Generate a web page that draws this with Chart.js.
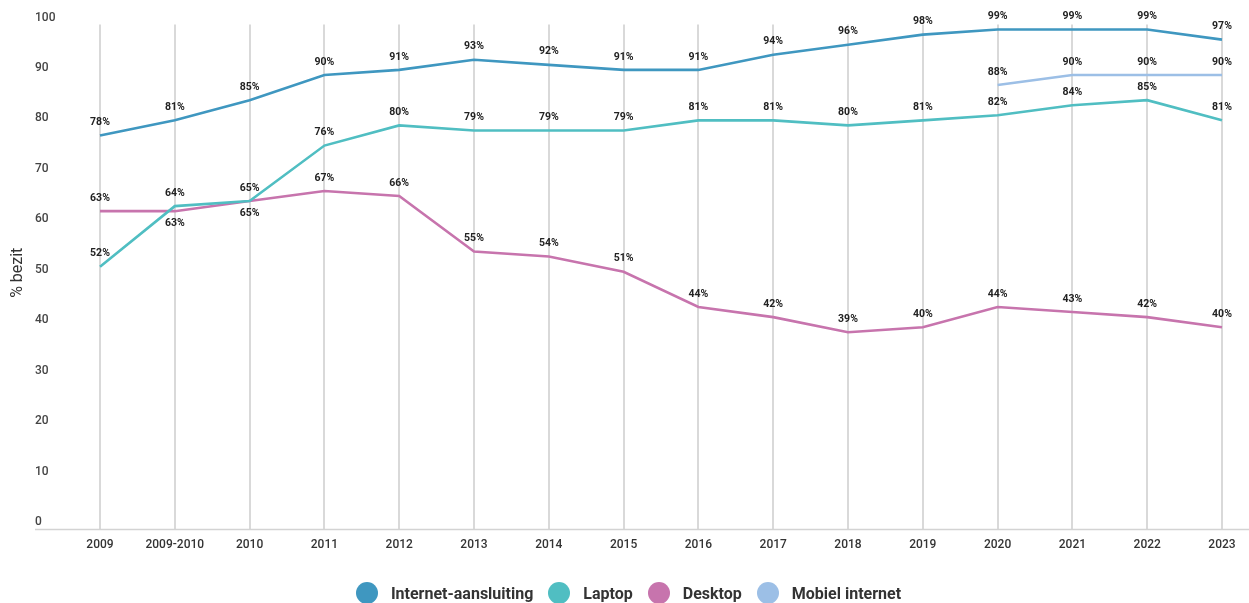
<!DOCTYPE html>
<html>
<head>
<meta charset="utf-8">
<script src="https://cdn.jsdelivr.net/npm/chart.js@4.4.1/dist/chart.umd.min.js"></script>
<style>
  html, body { margin: 0; padding: 0; background: #fff; }
  #wrap { position: relative; width: 1249px; height: 603px; overflow: hidden; }
  #c { position: absolute; left: 0; top: 0; }
  #legend { position: absolute; left: 35px; width: 1187px; top: 582px; height: 22px;
    display: flex; justify-content: center; align-items: center;
    font-family: Roboto, sans-serif; font-weight: bold; font-size: 16px; color: #333; }
  .item { display: flex; align-items: center; margin-right: 15px; white-space: nowrap; }
  .item:last-child { margin-right: 0; }
  .dot { width: 22px; height: 22px; border-radius: 50%; margin-right: 13px; display: inline-block; }
</style>
</head>
<body>
<div id="wrap">
  <canvas id="c" width="1249" height="603"></canvas>
  <div id="legend"></div>
</div>
<script>
const categories = ["2009","2009-2010","2010","2011","2012","2013","2014","2015","2016","2017","2018","2019","2020","2021","2022","2023"];
const internetValues = [78,81,85,90,91,93,92,91,91,94,96,98,99,99,99,97];
const laptopValues   = [52,64,65,76,80,79,79,79,81,81,80,81,82,84,85,81];
const desktopValues  = [63,63,65,67,66,55,54,51,44,42,39,40,44,43,42,40];
const mobileValues   = [null,null,null,null,null,null,null,null,null,null,null,null,88,90,90,90];
const seriesNames = ["Internet-aansluiting","Laptop","Desktop","Mobiel internet"];
const seriesColors = ["#3f97c0","#50bec2","#c774ad","#9cbfe6"];
const yTicks = [0,10,20,30,40,50,60,70,80,90,100];
const yTitle = "% bezit";

const allValues = [internetValues, laptopValues, desktopValues, mobileValues];

const datasets = allValues.map((vals, i) => ({
  label: seriesNames[i],
  data: vals,
  borderColor: seriesColors[i],
  backgroundColor: seriesColors[i],
  borderWidth: 2.6,
  pointRadius: 0,
  pointHoverRadius: 0,
  tension: 0,
  fill: false,
  spanGaps: false
}));

const labelPlugin = {
  id: 'valueLabels',
  afterDatasetsDraw(chart) {
    const ctx = chart.ctx;
    ctx.save();
    ctx.font = "bold 10.5px Roboto, sans-serif";
    ctx.fillStyle = "#222";
    ctx.textAlign = "center";
    ctx.textBaseline = "middle";
    chart.data.datasets.forEach((ds, di) => {
      const meta = chart.getDatasetMeta(di);
      meta.data.forEach((pt, i) => {
        const v = ds.data[i];
        if (v === null || v === undefined) return;
        let below = false;
        if (di === 2) {
          const lv = laptopValues[i];
          if (lv >= v && lv - v <= 2) below = true;
        }
        const y = below ? pt.y + 12 : pt.y - 13;
        ctx.fillText(v + "%", pt.x, y);
      });
    });
    ctx.restore();
  }
};

const decoPlugin = {
  id: 'deco',
  beforeDatasetsDraw(chart) {
    const ctx = chart.ctx;
    const b = chart.chartArea.bottom;
    ctx.save();
    ctx.strokeStyle = "#d3d3d3";
    ctx.lineWidth = 1.5;
    ctx.beginPath();
    ctx.moveTo(35, b + 0.5);
    ctx.lineTo(1249, b + 0.5);
    ctx.stroke();
    ctx.restore();
  },
  afterDraw(chart) {
    const ctx = chart.ctx;
    const ca = chart.chartArea;
    ctx.save();
    ctx.translate(18, (ca.top + ca.bottom) / 2 - 4);
    ctx.rotate(-Math.PI / 2);
    ctx.font = "16px Roboto, sans-serif";
    ctx.fillStyle = "#333";
    ctx.textAlign = "center";
    ctx.textBaseline = "middle";
    ctx.fillText(yTitle, 0, 0);
    ctx.restore();
  }
};

new Chart(document.getElementById('c'), {
  type: 'line',
  data: { labels: categories, datasets },
  options: {
    responsive: false,
    animation: false,
    devicePixelRatio: 1,
    layout: { padding: { left: 35, right: 27, top: 24.5, bottom: 0 } },
    plugins: {
      legend: { display: false },
      tooltip: { enabled: false }
    },
    scales: {
      x: {
        type: 'category',
        offset: false,
        grid: { display: true, color: "#d9d9d9", lineWidth: 2, drawTicks: false },
        border: { display: false },
        ticks: { padding: 9, color: "#333", font: { family: "Roboto", size: 12, weight: 500 }, maxRotation: 0, autoSkip: false },
        afterFit(scale) { scale.height = 74; }
      },
      y: {
        min: 0, max: 100,
        grid: { display: false },
        border: { display: false },
        afterBuildTicks(scale) { scale.ticks = yTicks.map(v => ({ value: v })); },
        ticks: { crossAlign: 'far', labelOffset: -7, color: "#444", font: { family: "Roboto", size: 12, weight: 500 } },
        afterFit(scale) { scale.width = 65; }
      }
    }
  },
  plugins: [labelPlugin, decoPlugin]
});

const legend = document.getElementById('legend');
seriesNames.forEach((n, i) => {
  const it = document.createElement('div');
  it.className = 'item';
  const d = document.createElement('span');
  d.className = 'dot';
  d.style.background = seriesColors[i];
  const t = document.createElement('span');
  t.textContent = n;
  it.appendChild(d); it.appendChild(t);
  legend.appendChild(it);
});
</script>
</body>
</html>
